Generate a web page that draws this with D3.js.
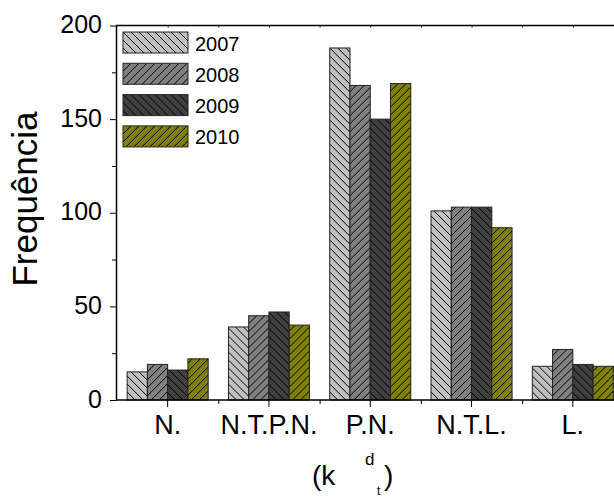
<!DOCTYPE html>
<html>
<head>
<meta charset="utf-8">
<script src="https://cdn.jsdelivr.net/npm/d3@7"></script>
<style>
  body { margin: 0; background: #fff; }
  svg { display: block; font-family: 'Liberation Sans', Arial, sans-serif; }
  .axis path, .axis line { stroke: #000; }
  .axis text { font-family: 'Liberation Sans', Arial, sans-serif; }
</style>
</head>
<body>
<svg id="chart" width="614" height="497"></svg>
<script>
var categories = ['N.', 'N.T.P.N.', 'P.N.', 'N.T.L.', 'L.']
var years = ['2007', '2008', '2009', '2010']
var values2007 = [15, 39, 188, 101, 18]
var values2008 = [19, 45, 168, 103, 27]
var values2009 = [16, 47, 150, 103, 19]
var values2010 = [22, 40, 169, 92, 18]
var yTicks = [0, 50, 100, 150, 200]
var yMinorTicks = [25, 75, 125, 175]

var series = [values2007, values2008, values2009, values2010]
var fills = ['#c0c0c0', '#808080', '#404040', '#808000']
var hatch = ['back', 'fwd', 'back', 'fwd']

var svg = d3.select('#chart')
var plotLeft = 116
var plotRight = 623.5
var plotTop = 25.5
var plotBottom = 400

var y = d3.scaleLinear().domain([0, 200]).range([plotBottom, plotTop])
var x = d3.scaleBand().domain(categories).range([plotLeft + 1, plotRight])
  .paddingInner(0.2).paddingOuter(0.1)
var xPos = d3.scaleLinear().domain([0.5, 5.5]).range([plotLeft + 1, plotRight])
var xSub = d3.scaleBand().domain(years).range([0, x.bandwidth()])

// hatch patterns
var defs = svg.append('defs')
years.forEach(function (yr, i) {
  var p = defs.append('pattern')
    .attr('id', 'hatch' + i)
    .attr('patternUnits', 'userSpaceOnUse')
    .attr('width', 8).attr('height', 8)
  p.append('rect').attr('width', 8).attr('height', 8).attr('fill', fills[i])
  var d = hatch[i] === 'back'
    ? 'M-2,-2 L10,10 M-2,6 L2,10 M6,-2 L10,2'
    : 'M-2,10 L10,-2 M-2,2 L2,-2 M6,10 L10,6'
  p.append('path').attr('d', d).attr('stroke', '#000').attr('stroke-width', 1)
})

// bars
var groups = svg.append('g').selectAll('g')
  .data(categories).enter().append('g')
  .attr('transform', function (c) { return 'translate(' + x(c) + ',0)' })

groups.selectAll('rect')
  .data(function (c, ci) {
    return years.map(function (yr, i) { return { yr: yr, i: i, v: series[i][ci] } })
  })
  .enter().append('rect')
  .attr('x', function (d) { return xSub(d.yr) })
  .attr('width', xSub.bandwidth())
  .attr('y', function (d) { return y(d.v) })
  .attr('height', function (d) { return y(0) - y(d.v) })
  .attr('fill', function (d) { return 'url(#hatch' + d.i + ')' })
  .attr('stroke', '#222')
  .attr('stroke-width', 1)

// left axis
var yAxis = svg.append('g').attr('class', 'axis')
  .attr('transform', 'translate(' + plotLeft + ',0)')
  .call(d3.axisLeft(y).tickValues(yTicks).tickSize(6).tickSizeOuter(0))
yAxis.select('.domain').attr('stroke-width', 1.5)
yAxis.selectAll('text').attr('font-size', 25).attr('fill', '#000')
  .attr('dx', -5).attr('dy', 7)
svg.append('g').attr('class', 'axis')
  .attr('transform', 'translate(' + plotLeft + ',0)')
  .call(d3.axisLeft(y).tickValues(yMinorTicks).tickSize(4).tickFormat(''))
  .select('.domain').remove()

// bottom axis
var xAxis = svg.append('g').attr('class', 'axis')
  .attr('transform', 'translate(0,' + plotBottom + ')')
  .call(d3.axisBottom(x).tickSize(7).tickSizeOuter(0))
xAxis.select('.domain').attr('d', 'M' + plotLeft + ',0H' + (plotRight + 10)).attr('stroke-width', 1.5)
xAxis.selectAll('text').attr('font-size', 27).attr('fill', '#000').attr('dy', 24)
svg.append('g').attr('class', 'axis')
  .attr('transform', 'translate(0,' + plotBottom + ')')
  .call(d3.axisBottom(xPos).tickValues([1.5, 2.5, 3.5, 4.5]).tickSize(4).tickFormat(''))
  .select('.domain').remove()

// top axis
var topAxis = svg.append('g').attr('class', 'axis')
  .attr('transform', 'translate(0,' + plotTop + ')')
  .call(d3.axisBottom(xPos).tickValues([1, 1.5, 2, 2.5, 3, 3.5, 4, 4.5, 5]).tickSize(2).tickFormat(''))
topAxis.select('.domain').attr('d', 'M' + plotLeft + ',0H' + (plotRight + 10)).attr('stroke-width', 1.5)

// legend
var legend = svg.append('g').attr('transform', 'translate(123,32)')
var item = legend.selectAll('g').data(years).enter().append('g')
  .attr('transform', function (d, i) { return 'translate(0,' + (i * 31.3) + ')' })
item.append('rect')
  .attr('width', 65).attr('height', 21)
  .attr('fill', function (d, i) { return 'url(#hatch' + i + ')' })
  .attr('stroke', '#222').attr('stroke-width', 1)
item.append('text')
  .attr('x', 72).attr('y', 18.5)
  .attr('font-size', 20)
  .text(function (d) { return d })

// axis titles
svg.append('text')
  .attr('transform', 'translate(37,199) rotate(-90)')
  .attr('text-anchor', 'middle')
  .attr('font-size', 35)
  .text('Frequência')

var xt = svg.append('g').attr('font-size', 28)
xt.append('text').attr('x', 312).attr('y', 485).text('(k')
xt.append('text').attr('x', 365).attr('y', 465).attr('font-size', 17).text('d')
xt.append('text').attr('x', 377).attr('y', 495).attr('font-size', 12).text('t')
xt.append('text').attr('x', 384).attr('y', 485).text(')')
</script>
</body>
</html>
